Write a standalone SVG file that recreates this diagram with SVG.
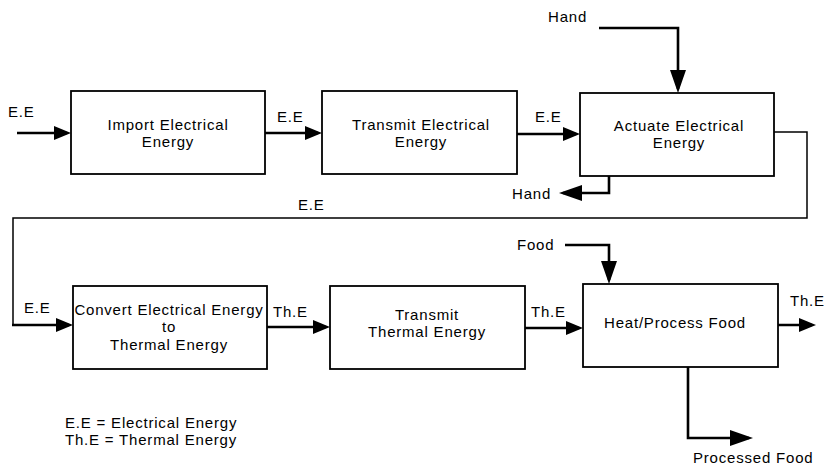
<svg xmlns="http://www.w3.org/2000/svg" width="825" height="466" viewBox="0 0 825 466">
  <style>
    .box { fill: #fff; stroke: #000; stroke-width: 1.8; }
    .lbl { font-family: "Liberation Sans", Arial, sans-serif; font-size: 15px; letter-spacing: 0.8px; fill: #000; }
    .mid { text-anchor: middle; }
    .flow { fill: none; stroke: #000; stroke-width: 2.6; }
    .thin { fill: none; stroke: #000; stroke-width: 1.5; }
  </style>
  <defs>
    <!-- filled arrowheads; the tip sits 4px past the end of the path -->
    <marker id="ah" markerUnits="userSpaceOnUse" markerWidth="17" markerHeight="14" refX="13" refY="7" orient="auto">
      <path d="M0,0 L17,7 L0,14 Z" fill="#000"/>
    </marker>
    <marker id="ahBig" markerUnits="userSpaceOnUse" markerWidth="23" markerHeight="16" refX="19" refY="8" orient="auto">
      <path d="M0,0 L23,8 L0,16 Z" fill="#000"/>
    </marker>
  </defs>

  <rect width="825" height="466" fill="#fff"/>

  <g id="connectors">
    <path class="flow" d="M17,133 H67" marker-end="url(#ah)"/>
    <path class="flow" d="M265,133 H318" marker-end="url(#ah)"/>
    <path class="flow" d="M517,134 H576" marker-end="url(#ah)"/>
    <path class="flow" d="M599,28 H678 V89" marker-end="url(#ahBig)"/>
    <path class="flow" d="M609,176 V193 H563" marker-end="url(#ahBig)"/>
    <path class="thin" d="M774,132 H807 V218 H13 V325"/>
    <path class="flow" d="M12,325 H69" marker-end="url(#ah)"/>
    <path class="flow" d="M267,327 H326" marker-end="url(#ah)"/>
    <path class="flow" d="M525,328 H579" marker-end="url(#ah)"/>
    <path class="flow" d="M565,245 H609 V280" marker-end="url(#ahBig)"/>
    <path class="flow" d="M778,325 H812" marker-end="url(#ah)"/>
    <path class="flow" d="M688,367 V438 H749" marker-end="url(#ahBig)"/>
  </g>

  <g id="flow-labels" class="lbl">
    <text x="8" y="117">E.E</text>
    <text x="277" y="122">E.E</text>
    <text x="535" y="122">E.E</text>
    <text x="548" y="22">Hand</text>
    <text x="512" y="199">Hand</text>
    <text x="298" y="210">E.E</text>
    <text x="24" y="313">E.E</text>
    <text x="273" y="317">Th.E</text>
    <text x="531" y="317">Th.E</text>
    <text x="517" y="250">Food</text>
    <text x="790" y="306">Th.E</text>
    <text x="693" y="463">Processed Food</text>
  </g>

  <g id="import-electrical-energy">
    <rect class="box" x="71" y="91" width="194" height="83"/>
    <text class="lbl mid" x="168" y="129.5">Import Electrical</text>
    <text class="lbl mid" x="168" y="146.5">Energy</text>
  </g>

  <g id="transmit-electrical-energy">
    <rect class="box" x="322" y="91" width="195" height="83"/>
    <text class="lbl mid" x="421" y="129.5">Transmit Electrical</text>
    <text class="lbl mid" x="421" y="146.5">Energy</text>
  </g>

  <g id="actuate-electrical-energy">
    <rect class="box" x="580" y="93" width="194" height="83"/>
    <text class="lbl mid" x="679" y="131">Actuate Electrical</text>
    <text class="lbl mid" x="679" y="148">Energy</text>
  </g>

  <g id="convert-to-thermal-energy">
    <rect class="box" x="73" y="286" width="194" height="83"/>
    <text class="lbl mid" x="169" y="315">Convert Electrical Energy</text>
    <text class="lbl mid" x="169" y="332">to</text>
    <text class="lbl mid" x="169" y="350">Thermal Energy</text>
  </g>

  <g id="transmit-thermal-energy">
    <rect class="box" x="330" y="286" width="195" height="83"/>
    <text class="lbl mid" x="427" y="320">Transmit</text>
    <text class="lbl mid" x="427" y="337">Thermal Energy</text>
  </g>

  <g id="heat-process-food">
    <rect class="box" x="583" y="284" width="195" height="83"/>
    <text class="lbl mid" x="675" y="328">Heat/Process Food</text>
  </g>

  <g id="legend" class="lbl">
    <text x="65" y="428">E.E = Electrical Energy</text>
    <text x="65" y="445">Th.E = Thermal Energy</text>
  </g>
</svg>
